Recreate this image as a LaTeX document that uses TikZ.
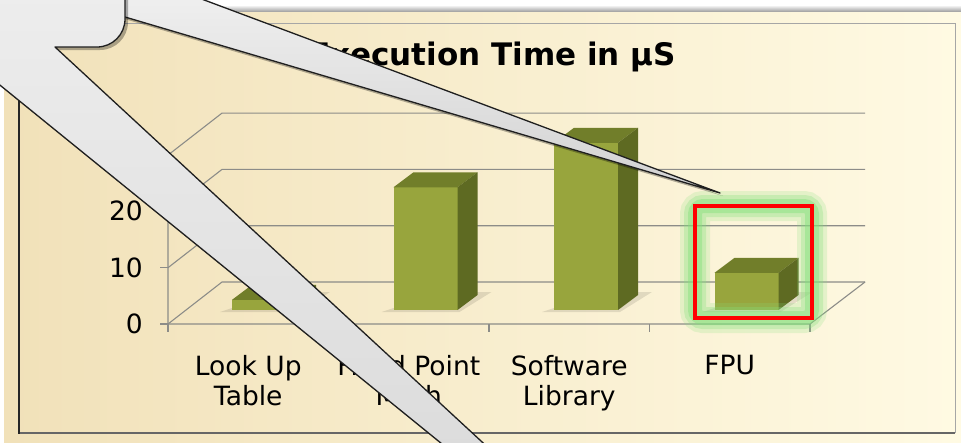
\documentclass[tikz,border=0pt]{standalone}
\usepackage{fontspec}
\setmainfont{DejaVu Sans}
\usepackage{tikz}
\definecolor{sand}{HTML}{F1E1B9}
\definecolor{cream}{HTML}{FFFAE3}
\definecolor{gridgray}{HTML}{8C8C88}
\definecolor{barfront}{HTML}{98A53D}
\definecolor{bartop}{HTML}{717E2A}
\definecolor{barside}{HTML}{5E6A22}
\definecolor{glowgreen}{HTML}{84E07C}
\definecolor{calltop}{HTML}{F4F4F4}
\definecolor{callbottom}{HTML}{D2D2D2}
\newcommand{\labfont}{\fontsize{26.5}{30}\selectfont}
\newcommand{\titfont}{\fontsize{31}{36}\selectfont\bfseries}
\newcommand{\wedgepath}{(100,-39) -- (720,193) -- (100,9.6) -- cycle}
\newcommand{\calloutpath}{(-300,-200) -- (125,-200) -- (125,19) .. controls (125,34.5) and (112.5,47) .. (97,47) -- (55,47) -- (787,724) -- (-47,47) -- (-300,47) -- cycle}

\begin{document}
\begin{tikzpicture}[x=1pt,y=-1pt,
	grid/.style={draw=gridgray,line width=1.1pt},
	ylab/.style={anchor=base east,font=\labfont,inner sep=0},
	catlab/.style={anchor=north,align=center,font=\labfont,inner sep=0},
	callout/.style={top color=calltop,bottom color=callbottom,draw=black!88,line width=1.3pt,line join=round},
	callshadow/.style={black,opacity=.3,shift={(3,3)}}]
	\useasboundingbox (0,0) rectangle (961,442);
	\clip (0,0) rectangle (961,442);
	\fill[white] (0,0) rectangle (961,442);
	\shade[top color=white,bottom color=black!40] (0,5) rectangle (961,12);
	\shade[left color=sand,right color=cream] (4,12) rectangle (961,442);
	\draw[black!35,line width=1pt] (20,23) -- (955,23) -- (955,433);
	\draw[black!60,line width=1.2pt] (955,433) -- (20,433);
	\draw[black!85,line width=2.5pt] (19,23) -- (19,434);
	
	\foreach \v in {0,1,2,3}{
		\draw[grid] (168,324-56.3*\v) -- (222,282-56.3*\v) -- (865,282-56.3*\v);
		\draw[grid] (160,324-56.3*\v) -- (168,324-56.3*\v);
	}
	\draw[grid] (168,155) -- (168,324) -- (810,324) -- (865,282);
	\foreach \i in {0,...,4}
		\draw[grid] (168+160.5*\i,324) -- (168+160.5*\i,332);
	
	\node[ylab] (y0) at (143,333.5) {0};
	\node[ylab] (y10) at (143,277.2) {10};
	\node[ylab] (y20) at (143,220.9) {20};
	
	\node[catlab] (lut) at (248.25,355) {Look Up\\Table};
	\node[catlab] (fixpt) at (408.75,355) {Fixed Point\\Math};
	\node[catlab] (swlib) at (569.25,355) {Software\\Library};
	\node[catlab] (fpu) at (729.75,355) {FPU};
	
	\foreach \nm/\cx/\val in {lut/264/1.8,fixpt/425.5/21.8,swlib/586/29.7,fpu/746.5/6.6}{
		\pgfmathsetmacro{\ty}{310-5.63*\val}
		\fill[black,opacity=.1] (\cx-44,312) -- (\cx+34,312) -- (\cx+66,292) -- (\cx+52,292) -- (\cx+32,308) -- (\cx-32,308) -- cycle;
		\fill[barfront] (\cx-32,\ty) rectangle (\cx+32,310);
		\fill[bartop] (\cx-32,\ty) -- (\cx-12,\ty-15) -- (\cx+52,\ty-15) -- (\cx+32,\ty) -- cycle;
		\fill[barside] (\cx+32,\ty) -- (\cx+52,\ty-15) -- (\cx+52,295) -- (\cx+32,310) -- cycle;
	}
	
	\coordinate (hl-nw) at (695,206);
	\coordinate (hl-se) at (812,318);
	\foreach \w/\o in {30/.2,22/.3,14/.45}
		\draw[glowgreen,line width=\w pt,opacity=\o,rounded corners=8] (hl-nw) rectangle (hl-se);
	\draw[red,line width=3.5pt] (hl-nw) rectangle (hl-se);
	
	\node[anchor=base east,font=\titfont,inner sep=0] (title) at (676,65) {Execution Time in µS};
	
	\fill[callshadow] \wedgepath;
	\draw[callout] \wedgepath;
	\fill[callshadow] \calloutpath;
	\draw[callout] \calloutpath;
\end{tikzpicture}
\end{document}
